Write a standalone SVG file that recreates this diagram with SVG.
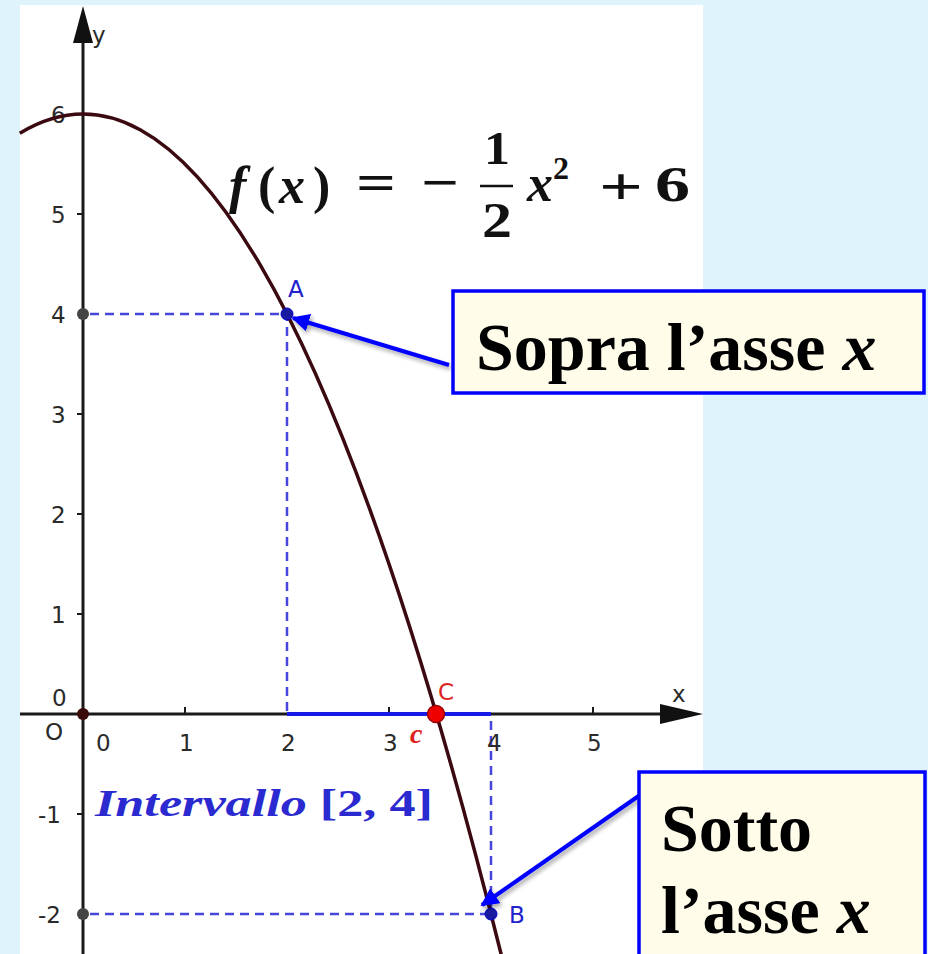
<svg xmlns="http://www.w3.org/2000/svg" width="928" height="954" viewBox="0 0 928 954">
<style>
.tick{font-family:"DejaVu Sans","Open Sans",sans-serif;font-size:23px;fill:#2a2a2a}
.axis{stroke:#1a1a1a;stroke-width:3;fill:none}
.dash{stroke:#4646dc;stroke-width:2.5;stroke-dasharray:9 6;fill:none}
.pt{font-family:"DejaVu Sans","Open Sans",sans-serif;font-size:23px}
.box{fill:#fffdea;stroke:#0000ff;stroke-width:3.5}
.big{font-family:"Liberation Serif","Times New Roman",serif;font-weight:bold;font-size:68px;fill:#000}
.math{font-family:"Liberation Serif","Times New Roman",serif;font-weight:bold;fill:#111}
.conn{stroke:#0000ff;stroke-width:4;fill:none}
</style>
<defs>
<marker id="ah" viewBox="0 0 10 10" refX="9" refY="5" markerWidth="4.5" markerHeight="4.5" orient="auto" markerUnits="strokeWidth">
<path d="M0,0 L10,5 L0,10 z" fill="#0000ff"/>
</marker>
<filter id="sh" x="-20%" y="-20%" width="140%" height="140%">
<feGaussianBlur in="SourceAlpha" stdDeviation="2"/>
<feOffset dx="2" dy="3"/>
<feComponentTransfer><feFuncA type="linear" slope="0.35"/></feComponentTransfer>
<feMerge><feMergeNode/><feMergeNode in="SourceGraphic"/></feMerge>
</filter>
</defs>
<rect x="0" y="0" width="928" height="954" fill="#dff3fc"/>
<rect x="20" y="5" width="683" height="949" fill="#ffffff"/>

<g id="graph">
<!-- dashed guides -->
<path class="dash" d="M90,314 H287 V714"/>
<path class="dash" d="M90,914 H491 V714"/>
<!-- axes -->
<line class="axis" x1="83" y1="40" x2="83" y2="954"/>
<polygon points="83,6 73,43 93,43" fill="#111"/>
<line class="axis" x1="20" y1="714" x2="665" y2="714"/>
<polygon points="703,714 660,704 660,724" fill="#111"/>
<text class="tick" x="92" y="43">y</text>
<text class="tick" x="672" y="702">x</text>
<!-- ticks -->
<g stroke="#1a1a1a" stroke-width="2">
<line x1="77" y1="214" x2="83" y2="214"/>
<line x1="77" y1="414" x2="83" y2="414"/>
<line x1="77" y1="514" x2="83" y2="514"/>
<line x1="77" y1="614" x2="83" y2="614"/>
<line x1="77" y1="814" x2="83" y2="814"/>
<line x1="185" y1="707" x2="185" y2="714"/>
<line x1="389" y1="707" x2="389" y2="714"/>
<line x1="593" y1="707" x2="593" y2="714"/>
</g>
<text class="tick" x="51" y="123">6</text>
<text class="tick" x="51" y="223">5</text>
<text class="tick" x="51" y="323">4</text>
<text class="tick" x="51" y="423">3</text>
<text class="tick" x="51" y="523">2</text>
<text class="tick" x="51" y="623">1</text>
<text class="tick" x="52" y="706">0</text>
<text class="tick" x="45" y="740">O</text>
<text class="tick" x="38" y="823">-1</text>
<text class="tick" x="38" y="923">-2</text>
<text class="tick" x="96" y="751">0</text>
<text class="tick" x="179" y="751">1</text>
<text class="tick" x="281" y="751">2</text>
<text class="tick" x="383" y="751">3</text>
<text class="tick" x="487" y="751">4</text>
<text class="tick" x="587" y="751">5</text>
<!-- interval -->
<line x1="287" y1="714" x2="491" y2="714" stroke="#1a1ae6" stroke-width="4"/>
<!-- parabola -->
<path d="M19.8,133.2 Q260.5,-13.1 501.2,954.5" fill="none" stroke="#3a0a10" stroke-width="3.5"/>
<!-- points -->
<circle cx="83" cy="714" r="6" fill="#3a0a0a"/>
<circle cx="83" cy="314" r="6" fill="#444"/>
<circle cx="83" cy="914" r="6" fill="#444"/>
<circle cx="287" cy="314" r="6" fill="#1a1aa0" stroke="#0000cc" stroke-width="1"/>
<circle cx="491" cy="914" r="6" fill="#1a1aa0" stroke="#0000cc" stroke-width="1"/>
<circle cx="436" cy="714" r="8.5" fill="#ee0000" stroke="#990000" stroke-width="1.5"/>
<text class="pt" x="288" y="297" fill="#2222cc">A</text>
<text class="pt" x="509" y="923" fill="#2222cc">B</text>
<text class="pt" x="438" y="700" font-size="25" fill="#dd2222">C</text>
<text x="410" y="743" fill="#dd2222" font-family="Liberation Serif,serif" font-style="italic" font-weight="bold" font-size="28">c</text>
<!-- formula -->
<text class="math" font-size="52" y="203">
<tspan x="229" font-style="italic">f</tspan><tspan x="258">(</tspan><tspan x="279" font-style="italic">x</tspan><tspan x="313">)</tspan>
</text>
<text class="math" x="356" y="200" font-size="52" textLength="40" lengthAdjust="spacingAndGlyphs">=</text>
<text class="math" x="421" y="200" font-size="52" textLength="38" lengthAdjust="spacingAndGlyphs">−</text>
<text class="math" x="484" y="164" font-size="46" textLength="26" lengthAdjust="spacingAndGlyphs">1</text>
<line x1="480" y1="186" x2="513" y2="186" stroke="#111" stroke-width="2.5"/>
<text class="math" x="482" y="237" font-size="50" textLength="30" lengthAdjust="spacingAndGlyphs">2</text>
<text class="math" x="527" y="201" font-size="52" font-style="italic">x</text>
<text class="math" x="553" y="179" font-size="32">2</text>
<text class="math" x="599" y="204" font-size="52" textLength="44" lengthAdjust="spacingAndGlyphs">+</text>
<text class="math" x="655" y="201" font-size="50" textLength="35" lengthAdjust="spacingAndGlyphs">6</text>
<!-- interval label -->
<text x="95" y="816" fill="#2a2ad0" font-family="Liberation Serif,serif" font-weight="bold" font-size="37" textLength="338" lengthAdjust="spacingAndGlyphs"><tspan font-style="italic">Intervallo</tspan> [2,  4]</text>
</g>

<g id="connectors">
<line class="conn" x1="449" y1="365" x2="293" y2="318" marker-end="url(#ah)" filter="url(#sh)"/>
<line class="conn" x1="640" y1="795" x2="482" y2="905" marker-end="url(#ah)" filter="url(#sh)"/>
</g>

<g id="box-sopra">
<rect class="box" x="453" y="291" width="471" height="102"/>
<text class="big" x="476" y="370">Sopra l’asse <tspan font-style="italic">x</tspan></text>
</g>

<g id="box-sotto">
<rect class="box" x="639" y="772" width="286" height="190"/>
<text class="big" x="661" y="851">Sotto</text>
<text class="big" x="661" y="933">l’asse <tspan font-style="italic">x</tspan></text>
</g>
</svg>
